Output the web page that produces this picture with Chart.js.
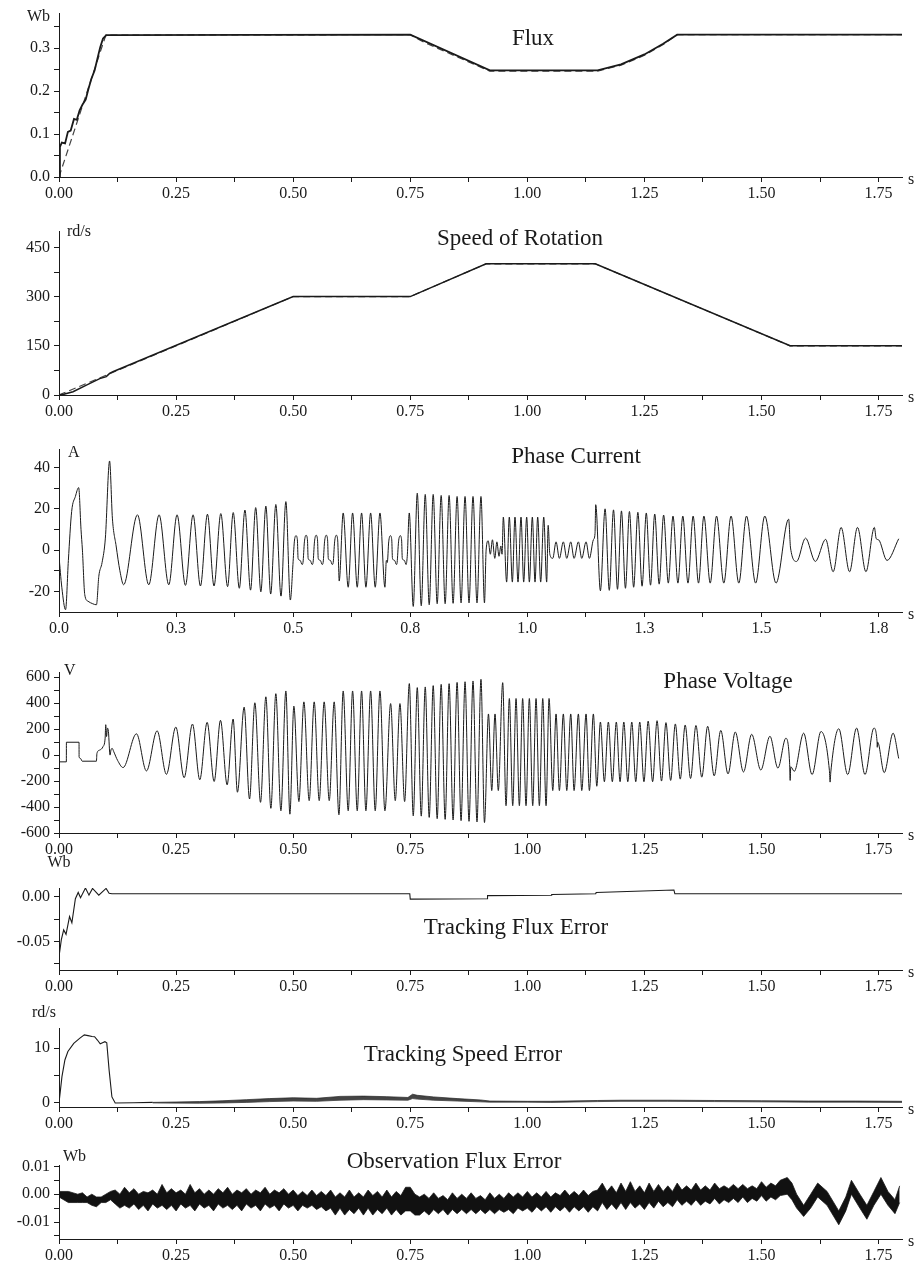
<!DOCTYPE html>
<html>
<head>
<meta charset="utf-8">
<script src="https://cdn.jsdelivr.net/npm/chart.js@4.4.1/dist/chart.umd.min.js"></script>
<style>
  html, body { margin: 0; padding: 0; background: #fff; }
  #wrap { position: relative; width: 924px; height: 1272px; overflow: hidden; background: #fff; }
  #wrap canvas { position: absolute; left: 0; }
</style>
</head>
<body>
<div id="wrap"></div>
<script>
// ---- time axis ----
const xMajor = [0, 0.25, 0.5, 0.75, 1, 1.25, 1.5, 1.75];
const xMinor = [0.125, 0.375, 0.625, 0.875, 1.125, 1.375, 1.625];
const xLabels = ['0.00', '0.25', '0.50', '0.75', '1.00', '1.25', '1.50', '1.75'];
const xLabelsCurrent = ['0.0', '0.3', '0.5', '0.8', '1.0', '1.3', '1.5', '1.8'];

// ---- flux ----
const fluxT = [0, 0.002, 0.006, 0.013, 0.019, 0.025, 0.032, 0.038, 0.044, 0.050, 0.057, 0.063, 0.069, 0.076, 0.082, 0.088, 0.094, 0.101, 0.75, 0.92, 1.15, 1.20, 1.25, 1.29, 1.32, 1.8];
const fluxV = [0, 0.07, 0.08, 0.078, 0.105, 0.108, 0.135, 0.133, 0.155, 0.168, 0.18, 0.205, 0.228, 0.248, 0.275, 0.302, 0.322, 0.33, 0.331, 0.248, 0.248, 0.262, 0.285, 0.31, 0.331, 0.331];
const fluxRefT = [0, 0.1, 0.75, 0.78, 0.92, 1.15, 1.20, 1.25, 1.29, 1.32, 1.8];
const fluxRefV = [0, 0.33, 0.331, 0.313, 0.246, 0.246, 0.260, 0.283, 0.308, 0.331, 0.331];

// ---- speed ----
const speedT = [0, 0.01, 0.03, 0.0585, 0.087, 0.101, 0.108, 0.115, 0.5, 0.75, 0.912, 1.145, 1.561, 1.8];
const speedV = [0, 2, 10, 30, 50, 56, 66, 71, 300, 300, 400, 400, 150, 150];
const speedRefT = [0, 0.5, 0.75, 0.912, 1.145, 1.561, 1.8];
const speedRefV = [0, 300, 300, 400, 400, 150, 150];

// ---- phase current (peaks / troughs) ----
const currentT = [
  0, 0.006, 0.014, 0.020, 0.027, 0.035, 0.042, 0.047, 0.050, 0.055, 0.062, 0.072, 0.080, 0.085, 0.092, 0.099, 0.108, 0.114, 0.122, 0.130, 0.138,
  0.1675, 0.1917, 0.2137, 0.2344, 0.2521, 0.270, 0.2863, 0.302, 0.317, 0.331, 0.3455, 0.360, 0.372, 0.385, 0.397, 0.409, 0.420, 0.431, 0.4417, 0.452, 0.463, 0.474, 0.4844, 0.494,
  0.4995, 0.5025, 0.506, 0.509, 0.5105, 0.515, 0.519,
  0.521, 0.524, 0.5275, 0.5305, 0.532, 0.5365, 0.5405,
  0.5425, 0.5455, 0.549, 0.552, 0.5535, 0.558, 0.562,
  0.564, 0.567, 0.5705, 0.5735, 0.575, 0.5795, 0.5835,
  0.5855, 0.5885, 0.592, 0.595, 0.5965, 0.5983,
  0.6068, 0.6175, 0.6269, 0.6368, 0.6461, 0.6553, 0.6654, 0.6752, 0.6853, 0.6959,
  0.699, 0.701, 0.704, 0.7075, 0.7105, 0.712, 0.7165, 0.7205,
  0.722, 0.725, 0.7285, 0.7315, 0.733, 0.7375, 0.741,
  0.7436, 0.7479, 0.7564,
  0.765, 0.7735, 0.782, 0.7905, 0.799, 0.8075, 0.816, 0.8245, 0.833, 0.8415, 0.850, 0.8585, 0.867, 0.8755, 0.884, 0.8925, 0.901, 0.9085,
  0.912, 0.9165, 0.921, 0.9255, 0.9305, 0.935, 0.9395, 0.9435, 0.946,
  0.9487, 0.9558, 0.9615, 0.968, 0.9736, 0.9801, 0.9865, 0.9922, 0.9986, 1.0043, 1.0107, 1.0164, 1.0221, 1.0285, 1.035, 1.0413,
  1.0445, 1.048, 1.0543, 1.0613, 1.0684, 1.0769, 1.0842, 1.0927, 1.0998, 1.109, 1.1162, 1.1254, 1.1325, 1.141, 1.1445,
  1.146, 1.156, 1.166, 1.175, 1.184, 1.1925, 1.201, 1.2095, 1.218, 1.227, 1.236, 1.245, 1.254, 1.263, 1.272, 1.2815, 1.291, 1.301, 1.311, 1.3215,
  1.332, 1.343, 1.354, 1.3655, 1.377, 1.3905, 1.404, 1.4195, 1.435, 1.4515, 1.468, 1.4875, 1.507, 1.531, 1.558,
  1.562, 1.575, 1.594, 1.615, 1.637, 1.653, 1.670, 1.688, 1.705, 1.723, 1.741, 1.745, 1.750, 1.768, 1.793
];
const currentA = [
  -3, -18, -28.9, -5, 18.7, 26, 30.3, 10, 0, -21.6, -24.8, -26, -26.5, -12.7, -6, 5.8, 43.2, 15.5, 2, -10, -16.8,
  17.1, -16.8, 17.1, -16.8, 17.1, -17.1, 17.1, -17.4, 17.4, -17.4, 17.7, -17.7, 18.2, -18.5, 19.4, -19.4, 20.6, -20.2, 21.3, -21.3, 22.1, -22.3, 23.5, -24.2,
  -7, 4, 7, 5, -4, -5, -7,
  -6, 4, 7.2, 5, -4, -5, -7,
  -6, 4, 7.2, 5, -4, -5, -7,
  -6, 4, 7.2, 5, -4, -5, -7,
  -6, 4, 7.2, 5, -4, -15,
  18, -18, 18, -18, 18, -18, 18, -18, 18, -18,
  -5, -6, 4, 7, 5, -4, -5, -7,
  -6, 4, 7, 5, -4, -5, -7,
  -3, 18, -27.3,
  27.6, -27, 27, -26.5, 27, -26, 26.5, -26, 26.5, -25.8, 26, -25.6, 26, -25.6, 26, -25.6, 26, -25.6,
  0, 4.5, -2, 5, -4, 4, -3, 2, -2,
  16, -15.5, 16, -15.5, 16, -15.5, 16, -15.5, 16, -15.5, 16, -15.5, 16, -15.5, 16, -15.5,
  12, -2, -4, 4, -4, 4, -4, 4, -4, 4, -4, 4, -4, 5, 8,
  22, -19.7, 20, -19.5, 19.5, -19, 19, -18.5, 18.7, -18, 18.3, -17.5, 18, -17, 17.5, -16.5, 17, -16, 16.5, -16,
  16.5, -16, 16.5, -16, 16.5, -16, 16.5, -16, 16.5, -16, 16.5, -16, 16.5, -16, 15,
  1, -5.5, 5.8, -5.5, 5.2, -10.5, 11, -10.5, 11, -10.5, 11, 5.5, 5, -5, 5.5
];

// ---- phase voltage ----
const voltageT = [
  0, 0.0157, 0.0158, 0.0428, 0.0429, 0.046, 0.0495, 0.0799, 0.081, 0.087, 0.094, 0.0985, 0.0998, 0.1015, 0.1035, 0.1055, 0.109, 0.111, 0.1135, 0.117, 0.125,
  0.1368, 0.1654, 0.1867, 0.2095, 0.2294, 0.2494, 0.2672, 0.285, 0.3006, 0.3163, 0.3313, 0.3448, 0.359, 0.3718, 0.381, 0.3953, 0.4068, 0.4182, 0.4303, 0.4417, 0.4524, 0.463, 0.4738, 0.4844, 0.493,
  0.5015, 0.5122, 0.5229, 0.5342, 0.5449, 0.5556, 0.5662, 0.577, 0.5876, 0.5977,
  0.6068, 0.6175, 0.6269, 0.6368, 0.6461, 0.6553, 0.6654, 0.6752, 0.6853, 0.6959,
  0.7081, 0.718, 0.728, 0.738,
  0.748, 0.7564, 0.765, 0.7735, 0.782, 0.7905, 0.799, 0.8075, 0.816, 0.8245, 0.833, 0.8415, 0.850, 0.8585, 0.867, 0.8755, 0.884, 0.8925, 0.901, 0.9085,
  0.917, 0.924, 0.931, 0.938, 0.9474, 0.9545, 0.9616, 0.9688, 0.9759, 0.983, 0.990, 0.9972, 1.0043, 1.0115, 1.0186, 1.0257, 1.0329, 1.04, 1.0464,
  1.0543, 1.0613, 1.0684, 1.0769, 1.0842, 1.0927, 1.0998, 1.109, 1.1162, 1.1254, 1.1325, 1.141, 1.1483,
  1.156, 1.1645, 1.173, 1.1815, 1.19, 1.198, 1.206, 1.2145, 1.223, 1.2315, 1.24, 1.249, 1.258, 1.2675, 1.277, 1.2865, 1.296, 1.306, 1.316, 1.3265,
  1.337, 1.3485, 1.36, 1.3725, 1.385, 1.399, 1.413, 1.4285, 1.444, 1.4615, 1.479, 1.4985, 1.518, 1.535, 1.552,
  1.560, 1.5612, 1.5625, 1.570, 1.590, 1.608, 1.627, 1.645, 1.6465, 1.648, 1.665, 1.684, 1.703, 1.721, 1.740, 1.7466, 1.7472, 1.748, 1.762, 1.781, 1.793
];
const voltageV = [
  -52, -52, 99, 99, -13, -26, -47, -47, 13, 39, 65, 130, 234, 143, 208, 182, 0, 40, 52, 26, -40,
  -96, 164, -122, 187, -148, 216, -174, 239, -190, 252, -203, 268, -229, 278, -286, 369, -338, 403, -364, 449, -410, 473, -429, 494, -455,
  377, -358, 410, -351, 410, -351, 410, -351, 410, -460,
  494, -429, 494, -429, 494, -429, 494, -429, 494, -429,
  397, -351, 397, -358,
  551, -468, 520, -470, 525, -480, 535, -490, 545, -495, 550, -500, 560, -505, 565, -510, 571, -515, 584, -520,
  317, -273, 317, -273, 558, -390, 436, -390, 436, -390, 436, -390, 436, -390, 436, -390, 436, -390, 436,
  -273, 317, -273, 317, -273, 317, -273, 317, -273, 317, -273, 317, -240,
  255, -205, 255, -205, 255, -205, 255, -205, 255, -205, 255, -205, 262, -205, 265, -200, 250, -195, 240, -185,
  232, -180, 228, -170, 222, -160, 190, -145, 178, -130, 160, -115, 145, -100, 130,
  -60, -195, -90, -125, 169, -150, 182, -120, -208, -130, 203, -150, 208, -150, 208, 110, 60, 100, -135, 169, -26
];

// ---- tracking flux error ----
const tfeT = [0, 0.005, 0.010, 0.015, 0.0225, 0.0275, 0.035, 0.041, 0.046, 0.0565, 0.064, 0.0716, 0.085, 0.1005, 0.107, 0.113, 0.749, 0.750, 0.914, 0.915, 1.051, 1.052, 1.146, 1.147, 1.313, 1.315, 1.8];
const tfeV = [-0.067, -0.048, -0.037, -0.042, -0.022, -0.029, -0.002, 0.005, -0.001, 0.010, 0.002, 0.0095, 0.002, 0.0095, 0.004, 0.0035, 0.0035, -0.0025, -0.002, 0.0015, 0.0018, 0.0028, 0.0035, 0.005, 0.0078, 0.0035, 0.0035];

// ---- tracking speed error ----
const tseT = [0, 0.0063, 0.0126, 0.019, 0.0315, 0.044, 0.054, 0.062, 0.0706, 0.076, 0.082, 0.088, 0.093, 0.098, 0.102, 0.107, 0.113, 0.12, 0.16, 0.2];
const tseV = [0, 4.8, 7.85, 9.4, 10.9, 11.8, 12.45, 12.3, 12.15, 12.1, 11.5, 10.8, 11.0, 11.2, 11.0, 6.0, 1.1, 0.0, 0.05, 0.1];
const rippleT = [0.2, 0.3, 0.35, 0.4, 0.45, 0.5, 0.55, 0.6, 0.65, 0.7, 0.745, 0.755, 0.765, 0.8, 0.85, 0.9, 0.92, 1.0, 1.05, 1.15, 1.2, 1.3, 1.4, 1.5, 1.6, 1.7, 1.8];
const rippleHi = [0.1, 0.25, 0.4, 0.6, 0.8, 0.95, 0.85, 1.2, 1.25, 1.15, 1.0, 1.6, 1.4, 1.1, 0.8, 0.55, 0.35, 0.3, 0.3, 0.45, 0.5, 0.5, 0.45, 0.4, 0.35, 0.35, 0.3];
const rippleLo = [0.0, -0.05, 0.0, 0.1, 0.25, 0.35, 0.3, 0.5, 0.6, 0.55, 0.5, 0.8, 0.7, 0.5, 0.35, 0.2, 0.15, 0.15, 0.1, 0.25, 0.3, 0.3, 0.25, 0.2, 0.15, 0.15, 0.1];

// ---- observation flux error (upper / lower edge of the noise band) ----
const obsT = [
  0, 0.02, 0.04, 0.05, 0.06, 0.07, 0.08, 0.09, 0.1, 0.11,
  0.12, 0.13, 0.14, 0.15, 0.16, 0.17, 0.18, 0.19, 0.2, 0.21, 0.22, 0.23, 0.24, 0.25, 0.26, 0.27, 0.28, 0.29,
  0.3, 0.31, 0.32, 0.33, 0.34, 0.35, 0.36, 0.37, 0.38, 0.39, 0.4, 0.41, 0.42, 0.43, 0.44, 0.45, 0.46, 0.47, 0.48, 0.49,
  0.5, 0.51, 0.52, 0.53, 0.54, 0.55, 0.56, 0.57, 0.58, 0.59, 0.6, 0.61, 0.62, 0.63, 0.64, 0.65, 0.66, 0.67, 0.68, 0.69,
  0.7, 0.71, 0.72, 0.73, 0.74, 0.75, 0.76,
  0.77, 0.78, 0.79, 0.8, 0.81, 0.82, 0.83, 0.84, 0.85, 0.86, 0.87, 0.88, 0.89, 0.9, 0.91, 0.92, 0.93, 0.94, 0.95, 0.96,
  0.97, 0.98, 0.99, 1.0, 1.01, 1.02, 1.03, 1.04, 1.05, 1.06, 1.07, 1.08, 1.09, 1.1, 1.11, 1.12, 1.13, 1.14, 1.15,
  1.16, 1.17, 1.18, 1.19, 1.2, 1.21, 1.22, 1.23, 1.24, 1.25, 1.26, 1.27, 1.28, 1.29, 1.3, 1.31, 1.32, 1.33, 1.34, 1.35,
  1.36, 1.37, 1.38, 1.39, 1.4, 1.41, 1.42, 1.43, 1.44, 1.45, 1.46, 1.47, 1.48, 1.49, 1.5, 1.51, 1.52, 1.53, 1.54,
  1.555, 1.565, 1.575, 1.59, 1.605, 1.62, 1.64, 1.665, 1.68, 1.692, 1.71, 1.725, 1.74, 1.755, 1.77, 1.785, 1.795
];
const obsHi = [
  0.001, 0.001, 0.0, 0.0005, -0.001, 0.0, -0.001, -0.001, 0.0, 0.001,
  0.0015, 0.0, 0.0025, 0.0005, 0.002, 0.0, 0.001, 0.0005, 0.0015, 0.0, 0.0035, 0.0005, 0.002, 0.0005, 0.0015, 0.0, 0.0035, 0.0005,
  0.002, 0.0, 0.0015, 0.0, 0.002, 0.0005, 0.0025, 0.0, 0.0015, 0.0005, 0.002, 0.0, 0.0015, 0.0005, 0.0025, 0.0, 0.0015, 0.0005, 0.002, 0.0,
  0.0015, -0.0005, 0.001, -0.0005, 0.0015, -0.0005, 0.001, -0.0005, 0.0015, -0.001, 0.0005, -0.001, 0.0015, -0.001, 0.0005, -0.001, 0.0015, -0.0005, 0.001, -0.001,
  0.0015, -0.001, 0.001, -0.0005, 0.0025, 0.0025, 0.0,
  -0.001, 0.0, -0.0015, 0.0005, -0.0015, -0.0005, -0.002, 0.0005, -0.0015, 0.0, -0.0015, 0.0005, -0.0015, -0.0005, -0.002, 0.0005, -0.0015, 0.0, -0.0015, 0.0005,
  -0.001, 0.0005, -0.001, 0.001, -0.001, 0.0005, -0.001, 0.001, -0.001, 0.0005, -0.0005, 0.0015, -0.0005, 0.001, -0.0005, 0.0015, -0.0005, 0.001, 0.0015,
  0.004, 0.001, 0.003, 0.0005, 0.004, 0.001, 0.0045, 0.001, 0.003, 0.0005, 0.004, 0.001, 0.0035, 0.001, 0.003, 0.001, 0.004, 0.0015, 0.003, 0.0015,
  0.004, 0.0015, 0.003, 0.0015, 0.004, 0.002, 0.003, 0.002, 0.0035, 0.002, 0.0035, 0.002, 0.003, 0.002, 0.0045, 0.0025, 0.004, 0.003, 0.005,
  0.006, 0.004, 0.0, -0.004, 0.0, 0.004, 0.001, -0.006, -0.001, 0.005, 0.0, -0.004, 0.001, 0.006, 0.001, -0.002, 0.003
];
const obsLo = [
  -0.001, -0.003, -0.003, -0.003, -0.003, -0.004, -0.0045, -0.003, -0.003, -0.002,
  -0.0035, -0.005, -0.004, -0.005, -0.0035, -0.0055, -0.004, -0.006, -0.0035, -0.005, -0.004, -0.0055, -0.004, -0.006, -0.0035, -0.005, -0.004, -0.006,
  -0.0035, -0.005, -0.004, -0.006, -0.0035, -0.005, -0.004, -0.0055, -0.004, -0.006, -0.0035, -0.005, -0.004, -0.006, -0.0035, -0.005, -0.004, -0.006, -0.0035, -0.005,
  -0.004, -0.006, -0.004, -0.005, -0.004, -0.0055, -0.0045, -0.006, -0.005, -0.0075, -0.005, -0.0075, -0.0055, -0.007, -0.005, -0.0075, -0.005, -0.0075, -0.0055, -0.007,
  -0.005, -0.0075, -0.0055, -0.0075, -0.006, -0.006, -0.0075,
  -0.0075, -0.006, -0.0075, -0.0055, -0.007, -0.0055, -0.0075, -0.0055, -0.007, -0.0055, -0.007, -0.0055, -0.007, -0.0055, -0.007, -0.0055, -0.007, -0.0055, -0.0065, -0.0055,
  -0.007, -0.005, -0.006, -0.005, -0.0065, -0.0045, -0.006, -0.0045, -0.0065, -0.0045, -0.006, -0.0045, -0.0065, -0.0045, -0.006, -0.0045, -0.0065, -0.0045, -0.006,
  -0.003, -0.0055, -0.0035, -0.0055, -0.003, -0.0055, -0.003, -0.005, -0.0035, -0.0055, -0.003, -0.005, -0.0025, -0.0045, -0.003, -0.0045, -0.002, -0.004, -0.0025, -0.004,
  -0.002, -0.004, -0.0025, -0.0035, -0.0015, -0.0035, -0.002, -0.003, -0.0015, -0.003, -0.001, -0.003, -0.0015, -0.0025, -0.0005, -0.0025, -0.001, -0.002, -0.0005,
  0.0, -0.002, -0.005, -0.008, -0.005, -0.001, -0.004, -0.011, -0.006, 0.0, -0.005, -0.009, -0.004, 0.0, -0.004, -0.007, -0.003
];

const INK = '#1a1a1a';
const FONT = '"Liberation Serif", "Times New Roman", serif';
const AXIS_H = 36;
const wrap = document.getElementById('wrap');

function pts(ts, vs) {
  return ts.map((t, i) => ({ x: t, y: vs[i] }));
}

function labelFor(v, majors, labels) {
  const i = majors.findIndex(m => Math.abs(m - v) < 1e-9);
  return i >= 0 ? labels[i] : '';
}

const decor = {
  id: 'decor',
  afterDraw(chart, args, o) {
    const ctx = chart.ctx;
    ctx.save();
    ctx.fillStyle = INK;
    ctx.textBaseline = 'middle';
    ctx.font = '23px ' + FONT;
    ctx.textAlign = 'center';
    ctx.fillText(o.title, o.titleX, o.titleY - o.top);
    ctx.font = '16px ' + FONT;
    ctx.textAlign = o.unitAlign;
    ctx.fillText(o.unit, o.unitX, o.unitY - o.top);
    ctx.textAlign = 'left';
    ctx.fillText('s', 908, chart.chartArea.bottom + 3);
    ctx.restore();
  }
};

function panel(p) {
  const top = Math.max(0, p.plotTop - 45);
  const h = p.plotBottom - top + AXIS_H;
  const canvas = document.createElement('canvas');
  canvas.width = 924;
  canvas.height = h;
  canvas.style.top = top + 'px';
  canvas.style.width = '924px';
  canvas.style.height = h + 'px';
  wrap.appendChild(canvas);

  new Chart(canvas.getContext('2d'), {
    type: 'line',
    data: { datasets: p.datasets },
    options: {
      responsive: false,
      animation: false,
      devicePixelRatio: 1,
      events: [],
      layout: { padding: { top: p.plotTop - top, right: 22, left: 0, bottom: 0 } },
      elements: { point: { radius: 0 }, line: { borderWidth: 1, borderColor: INK, tension: 0 } },
      plugins: {
        legend: { display: false },
        tooltip: { enabled: false },
        decor: {
          top: top, title: p.title, titleX: p.titleX, titleY: p.titleY,
          unit: p.unit, unitX: p.unitX, unitY: p.unitY, unitAlign: p.unitAlign
        }
      },
      scales: {
        x: {
          type: 'linear',
          min: 0,
          max: 1.8,
          afterBuildTicks: s => { s.ticks = xMajor.concat(xMinor).sort((a, b) => a - b).map(v => ({ value: v })); },
          afterFit: s => { s.height = AXIS_H; },
          grid: { drawOnChartArea: false, drawTicks: true, tickLength: 5, color: INK },
          border: { display: true, color: INK, width: 1 },
          ticks: {
            autoSkip: false, maxRotation: 0, padding: 2, color: INK,
            font: { family: FONT, size: 16 },
            callback: v => labelFor(v, xMajor, p.xLabels)
          }
        },
        y: {
          type: 'linear',
          min: p.yMin,
          max: p.yMax,
          afterBuildTicks: s => { s.ticks = p.yMajor.concat(p.yMinor).sort((a, b) => a - b).map(v => ({ value: v })); },
          afterFit: s => { s.width = 59; },
          grid: { drawOnChartArea: false, drawTicks: true, tickLength: 5, color: INK },
          border: { display: true, color: INK, width: 1 },
          ticks: {
            autoSkip: false, padding: 4, color: INK,
            font: { family: FONT, size: 16 },
            callback: v => labelFor(v, p.yMajor, p.yLabels)
          }
        }
      }
    },
    plugins: [decor]
  });
}

// Flux
panel({
  plotTop: 13, plotBottom: 177, yMin: 0, yMax: 0.38,
  yMajor: [0, 0.1, 0.2, 0.3], yMinor: [0.05, 0.15, 0.25, 0.35], yLabels: ['0.0', '0.1', '0.2', '0.3'],
  xLabels: xLabels,
  title: 'Flux', titleX: 533, titleY: 39,
  unit: 'Wb', unitX: 50, unitY: 17, unitAlign: 'right',
  datasets: [
    { data: pts(fluxT, fluxV), borderWidth: 1.8 },
    { data: pts(fluxRefT, fluxRefV), borderWidth: 1.2, borderDash: [7, 4], borderColor: '#444' }
  ]
});

// Speed of Rotation
panel({
  plotTop: 231, plotBottom: 395, yMin: 0, yMax: 500,
  yMajor: [0, 150, 300, 450], yMinor: [75, 225, 375], yLabels: ['0', '150', '300', '450'],
  xLabels: xLabels,
  title: 'Speed of Rotation', titleX: 520, titleY: 239,
  unit: 'rd/s', unitX: 67, unitY: 232, unitAlign: 'left',
  datasets: [
    { data: pts(speedT, speedV), borderWidth: 1.5 },
    { data: pts(speedRefT, speedRefV), borderWidth: 1.2, borderDash: [7, 4], borderColor: '#444' }
  ]
});

// Phase Current
panel({
  plotTop: 449, plotBottom: 612, yMin: -30, yMax: 49,
  yMajor: [-20, 0, 20, 40], yMinor: [-10, 10, 30], yLabels: ['-20', '0', '20', '40'],
  xLabels: xLabelsCurrent,
  title: 'Phase Current', titleX: 576, titleY: 457,
  unit: 'A', unitX: 68, unitY: 453, unitAlign: 'left',
  datasets: [
    { data: pts(currentT, currentA), borderWidth: 1, cubicInterpolationMode: 'monotone' }
  ]
});

// Phase Voltage
panel({
  plotTop: 672, plotBottom: 833, yMin: -600, yMax: 640,
  yMajor: [-600, -400, -200, 0, 200, 400, 600], yMinor: [-500, -300, -100, 100, 300, 500],
  yLabels: ['-600', '-400', '-200', '0', '200', '400', '600'],
  xLabels: xLabels,
  title: 'Phase Voltage', titleX: 728, titleY: 682,
  unit: 'V', unitX: 64, unitY: 671, unitAlign: 'left',
  datasets: [
    { data: pts(voltageT, voltageV), borderWidth: 1, cubicInterpolationMode: 'monotone' }
  ]
});

// Tracking Flux Error
panel({
  plotTop: 888, plotBottom: 970, yMin: -0.082, yMax: 0.010,
  yMajor: [-0.05, 0], yMinor: [-0.075, -0.025], yLabels: ['-0.05', '0.00'],
  xLabels: xLabels,
  title: 'Tracking Flux Error', titleX: 516, titleY: 928,
  unit: 'Wb', unitX: 59, unitY: 863, unitAlign: 'center',
  datasets: [
    { data: pts(tfeT, tfeV), borderWidth: 1.1 }
  ]
});

// Tracking Speed Error
panel({
  plotTop: 1028, plotBottom: 1107, yMin: -0.74, yMax: 13.7,
  yMajor: [0, 10], yMinor: [5], yLabels: ['0', '10'],
  xLabels: xLabels,
  title: 'Tracking Speed Error', titleX: 463, titleY: 1055,
  unit: 'rd/s', unitX: 44, unitY: 1013, unitAlign: 'center',
  datasets: [
    { data: pts(tseT, tseV), borderWidth: 1.1 },
    { data: pts(rippleT, rippleHi), borderWidth: 0.7, borderColor: '#222', fill: '+1', backgroundColor: '#444' },
    { data: pts(rippleT, rippleLo), borderWidth: 0.7, borderColor: '#222' }
  ]
});

// Observation Flux Error
panel({
  plotTop: 1165, plotBottom: 1239, yMin: -0.0161, yMax: 0.0105,
  yMajor: [-0.01, 0, 0.01], yMinor: [-0.015, -0.005, 0.005], yLabels: ['-0.01', '0.00', '0.01'],
  xLabels: xLabels,
  title: 'Observation Flux Error', titleX: 454, titleY: 1162,
  unit: 'Wb', unitX: 63, unitY: 1157, unitAlign: 'left',
  datasets: [
    { data: pts(obsT, obsHi), borderWidth: 0.8, fill: '+1', backgroundColor: '#111' },
    { data: pts(obsT, obsLo), borderWidth: 0.8 }
  ]
});
</script>
</body>
</html>
